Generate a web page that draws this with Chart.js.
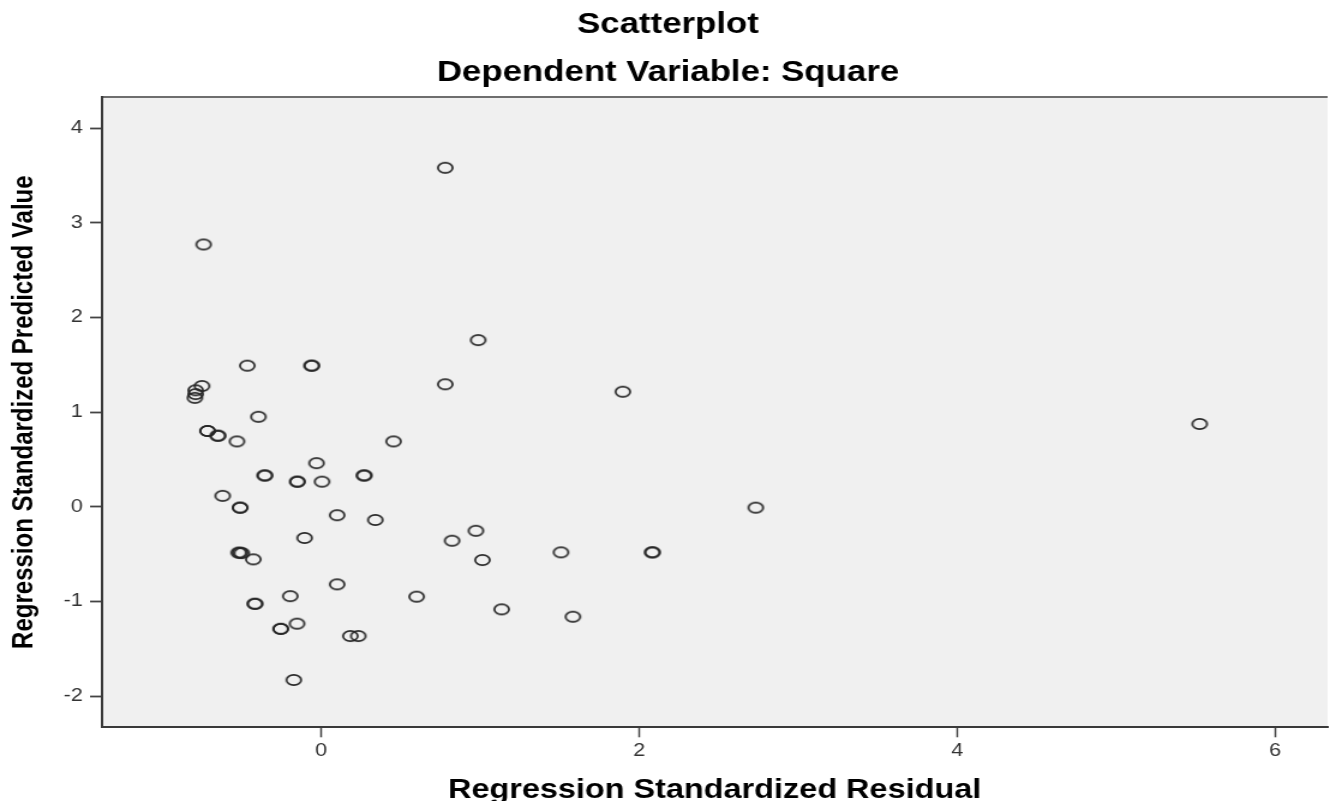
<!DOCTYPE html>
<html>
<head>
<meta charset="utf-8">
<title>Scatterplot</title>
<script src="https://cdn.jsdelivr.net/npm/chart.js@4"></script>
<style>
  html, body { margin: 0; padding: 0; background: #fff; }
  #scatter { display: block; }
</style>
</head>
<body>
<!-- the source image is stretched sideways, so the canvas is drawn narrower and widened by its inline size -->
<canvas id="scatter" width="1113" height="801" style="width:1336px;height:801px"></canvas>
<script>
//DATA
const titleLines = ['Scatterplot', 'Dependent Variable: Square'];
const xTitle = 'Regression Standardized Residual';
const yTitle = 'Regression Standardized Predicted Value';

const xTicks = [0, 2, 4, 6];
const yTicks = [-2, -1, 0, 1, 2, 3, 4];

// repeated pairs are the darker (overlapping) rings
const residual = [
    -0.74, -0.465, -0.06, -0.06, -0.75, -0.79, -0.79, -0.795, -0.395,
    -0.715, -0.715, -0.65, -0.65, -0.53, -0.03, 0.455, -0.355, -0.355,
    -0.15, -0.15, 0.005, 0.27, 0.27, -0.62, -0.51, -0.51, 0.10, 0.34,
    -0.105, -0.52, -0.51, -0.50, -0.427, 0.10, -0.195, 0.60, -0.417,
    -0.417, -0.152, -0.255, -0.255, 0.183, 0.233, -0.173, 0.78, 0.987,
    0.78, 1.897, 2.733, 0.973, 0.823, 1.014, 1.508, 2.083, 2.083, 1.135,
    1.583, 5.525
];
const predicted = [
    2.77, 1.49, 1.49, 1.49, 1.275, 1.23, 1.19, 1.15, 0.95,
    0.80, 0.80, 0.75, 0.75, 0.69, 0.46, 0.69, 0.33, 0.33,
    0.265, 0.265, 0.265, 0.33, 0.33, 0.115, -0.01, -0.01, -0.09, -0.14,
    -0.33, -0.485, -0.485, -0.49, -0.556, -0.82, -0.945, -0.95, -1.025,
    -1.025, -1.235, -1.29, -1.29, -1.366, -1.366, -1.83, 3.58, 1.76,
    1.293, 1.215, -0.01, -0.254, -0.359, -0.563, -0.482, -0.482, -0.482, -1.084,
    -1.162, 0.874
];

const points = residual.map((x, i) => ({ x: x, y: predicted[i] }));

const fam = "'Liberation Sans', Arial, sans-serif";

// open ring marker
const ring = document.createElement('canvas');
ring.width = 16;
ring.height = 14;
const rc = ring.getContext('2d');
rc.strokeStyle = '#262626';
rc.lineWidth = 1.7;
rc.beginPath();
rc.ellipse(8, 7, 6.1, 5.2, 0, 0, Math.PI * 2);
rc.stroke();

//PLUGIN
const plotFrame = {
    id: 'plotFrame',
    beforeDraw(chart) {
        const { ctx, chartArea: a } = chart;
        ctx.save();
        ctx.fillStyle = '#f0f0f0';
        ctx.fillRect(a.left, a.top, a.right - a.left, a.bottom - a.top);
        ctx.strokeStyle = '#6e6e6e';
        ctx.lineWidth = 2;
        ctx.beginPath();
        ctx.moveTo(a.left, a.top);
        ctx.lineTo(a.right, a.top);
        ctx.stroke();
        ctx.restore();
    }
};

//CONFIG
const scatterConfig = {
    type: 'scatter',
    data: {
        datasets: [{
            data: points,
            pointStyle: ring,
            pointRadius: 6,
            pointHoverRadius: 6
        }]
    },
    options: {
        responsive: false,
        animation: false,
        layout: { padding: 0 },
        plugins: {
            legend: { display: false },
            tooltip: { enabled: false },
            title: {
                display: true,
                text: titleLines,
                color: '#000',
                font: { family: fam, size: 29, weight: 'bold', lineHeight: 1.655 },
                padding: { top: 1, bottom: 0 }
            }
        },
        scales: {
            x: {
                type: 'linear',
                min: -1.381,
                max: 6.33,
                afterBuildTicks: s => { s.ticks = xTicks.map(v => ({ value: v })); },
                afterFit: s => { s.height = 73.7; },
                grid: { drawOnChartArea: false, drawTicks: true, tickLength: 10, tickColor: '#444', tickWidth: 1.5 },
                border: { display: true, color: '#3a3a3a', width: 2 },
                ticks: { color: '#333', font: { family: fam, size: 18 }, padding: 3, maxRotation: 0, autoSkip: false },
                title: {
                    display: true,
                    text: xTitle,
                    color: '#000',
                    font: { family: fam, size: 27, weight: 'bold', lineHeight: 0.75 },
                    padding: { top: 0, bottom: 0 }
                }
            },
            y: {
                type: 'linear',
                min: -2.33,
                max: 4.328,
                afterBuildTicks: s => { s.ticks = yTicks.map(v => ({ value: v })); },
                afterFit: s => { s.width = 84.7; },
                grid: { drawOnChartArea: false, drawTicks: true, tickLength: 9.7, tickColor: '#444', tickWidth: 1.8 },
                border: { display: true, color: '#3a3a3a', width: 2 },
                ticks: { color: '#333', font: { family: fam, size: 18 }, padding: 6, autoSkip: false },
                title: {
                    display: true,
                    text: yTitle,
                    color: '#000',
                    font: { family: fam, size: 24, weight: 'bold', lineHeight: 1.2 },
                    padding: { top: 5.7, bottom: 0 }
                }
            }
        }
    },
    plugins: [plotFrame]
};

//RENDER
const scatterChart = new Chart(
    document.getElementById('scatter'),
    scatterConfig
);
</script>
</body>
</html>
